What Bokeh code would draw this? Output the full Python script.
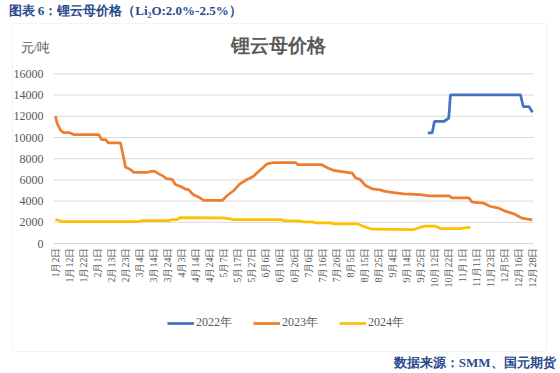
import math
from bokeh.plotting import figure
from bokeh.models import Range1d, Label, Legend, LegendItem, BoxAnnotation
from bokeh.embed import file_html
from bokeh.resources import INLINE

# category tick labels (every ~10th trading day)
date_labels = ["1月2日", "1月12日", "1月22日", "2月1日", "2月13日", "2月23日", "3月4日",
               "3月14日", "3月24日", "4月3日", "4月14日", "4月24日", "5月7日", "5月17日",
               "5月27日", "6月6日", "6月16日", "6月26日", "7月6日", "7月16日", "7月26日",
               "8月5日", "8月15日", "8月25日", "9月4日", "9月14日", "9月25日", "10月12日",
               "10月22日", "11月1日", "11月11日", "11月23日", "12月5日", "12月16日", "12月28日"]

# positions along the date axis (in label-interval units) and prices (元/吨)
pos_2022 = [26.54, 26.85, 27.01, 27.68, 28.03, 28.15, 33.14, 33.34, 33.74, 34.0]
price_2022 = [10440, 10440, 11510, 11510, 11820, 14030, 14030, 12920, 12920, 12390]

pos_2023 = [0, 0.12, 0.36, 0.59, 1.0, 1.30, 3.09, 3.28, 3.56, 3.76, 4.63, 4.80, 4.99, 5.35,
            5.58, 6.54, 6.84, 7.08, 7.36, 7.65, 7.89, 8.32, 8.55, 8.91, 9.22, 9.50, 9.81,
            10.21, 10.57, 11.88, 12.24, 12.71, 13.14, 13.66, 14.09, 14.49, 15.09, 15.56,
            17.11, 17.27, 18.94, 19.37, 19.84, 20.43, 21.15, 21.38, 21.74, 22.10, 22.57,
            23.16, 23.40, 24.11, 24.83, 26.02, 26.61, 28.03, 28.27, 29.46, 29.70, 30.53,
            31.0, 31.60, 32.07, 32.67, 33.26, 33.98]
price_2023 = [12000, 11300, 10700, 10450, 10450, 10280, 10280, 9810, 9810, 9500, 9500, 8460,
              7200, 6980, 6700, 6700, 6820, 6800, 6570, 6380, 6130, 6040, 5570, 5380, 5160,
              5060, 4620, 4370, 4060, 4060, 4530, 5000, 5630, 6040, 6320, 6820, 7520, 7640,
              7640, 7450, 7450, 7140, 6890, 6790, 6640, 6200, 6010, 5470, 5160, 5060, 4940,
              4810, 4685, 4620, 4500, 4500, 4310, 4310, 3900, 3800, 3490, 3330, 3050, 2800,
              2390, 2230]

pos_2024 = [0, 0.48, 5.94, 6.18, 8.08, 8.32, 8.67, 8.91, 12.0, 12.71, 16.04, 16.39, 17.34,
            17.70, 18.30, 18.53, 19.60, 19.84, 21.50, 21.97, 22.57, 25.54, 26.02, 26.37,
            27.08, 27.44, 28.87, 29.58]
price_2024 = [2260, 2075, 2075, 2170, 2170, 2260, 2260, 2450, 2420, 2260, 2260, 2140, 2140,
              2040, 2040, 1950, 1950, 1855, 1855, 1600, 1350, 1320, 1540, 1635, 1635, 1415,
              1415, 1540]

y_ticks = list(range(0, 16001, 2000))
y_tick_labels = [str(v) for v in y_ticks]
x_ticks = list(range(len(date_labels)))

SERIF = "Liberation Serif"
GRAY = "#595959"
BLUE_TXT = "#2B4B8C"

# plot area limits on the category axis
x_lo, x_hi = -0.143, 34.07

p = figure(width=560, height=373, output_backend="svg", toolbar_location=None,
           x_range=Range1d(-3.920, 35.994), y_range=Range1d(-12264, 22925),
           x_axis_location=None, y_axis_location=None,
           min_border=0, min_border_left=0, min_border_right=0,
           min_border_top=0, min_border_bottom=0)
p.outline_line_color = None
p.background_fill_color = "white"
p.border_fill_color = "white"
p.xgrid.visible = False
p.ygrid.visible = False

# chart box border
p.add_layout(BoxAnnotation(left=12, right=546, top=350, bottom=22,
                           left_units="screen", right_units="screen",
                           top_units="screen", bottom_units="screen",
                           fill_alpha=0, line_color="#D9D9D9", line_width=1))

# horizontal gridlines
p.segment(x0=x_lo, x1=x_hi, y0=y_ticks, y1=y_ticks, line_color="#D9D9D9", line_width=1)

# y tick labels
p.text(x=[x_lo] * len(y_ticks), y=y_ticks, text=y_tick_labels, x_offset=-10,
       text_align="right", text_baseline="middle", text_font_size="12px",
       text_color=GRAY, text_font="Liberation Serif")

# x tick labels (vertical)
p.text(x=x_ticks, y=[0] * len(x_ticks), text=date_labels, angle=math.pi / 2,
       y_offset=4, text_align="right", text_baseline="middle", text_font_size="10px",
       text_color=GRAY, text_font="Liberation Serif")

r22 = p.line(pos_2022, price_2022, line_color="#4472C4", line_width=2.75)
r23 = p.line(pos_2023, price_2023, line_color="#ED7D31", line_width=2.75)
r24 = p.line(pos_2024, price_2024, line_color="#FFC000", line_width=2.75)

legend = Legend(items=[LegendItem(label="2022年", renderers=[r22]),
                       LegendItem(label="2023年", renderers=[r23]),
                       LegendItem(label="2024年", renderers=[r24])],
                orientation="horizontal", location=(167, 42),
                glyph_width=27, glyph_height=16, label_height=16, label_standoff=2,
                spacing=21, padding=0, margin=0, border_line_color=None,
                background_fill_alpha=0, label_text_font=SERIF,
                label_text_font_size="12px", label_text_color=GRAY)
p.add_layout(legend, "center")

p.add_layout(Label(x=8, y=363, x_units="screen", y_units="screen",
                   text="图表 6：锂云母价格（Li₂O:2.0%-2.5%）", text_baseline="middle",
                   text_font=SERIF, text_font_size="13px", text_font_style="bold",
                   text_color=BLUE_TXT))
p.add_layout(Label(x=20, y=326, x_units="screen", y_units="screen",
                   text="元/吨", text_baseline="middle",
                   text_font=SERIF, text_font_size="13px", text_color=GRAY))
p.add_layout(Label(x=278, y=328, x_units="screen", y_units="screen",
                   text="锂云母价格", text_baseline="middle", text_align="center",
                   text_font=SERIF, text_font_size="19px", text_font_style="bold",
                   text_color=GRAY))
p.add_layout(Label(x=555, y=11, x_units="screen", y_units="screen",
                   text="数据来源：SMM、国元期货", text_baseline="middle", text_align="right",
                   text_font=SERIF, text_font_size="13px", text_font_style="bold",
                   text_color=BLUE_TXT))

open("out.html", "w").write(file_html(p, INLINE))
